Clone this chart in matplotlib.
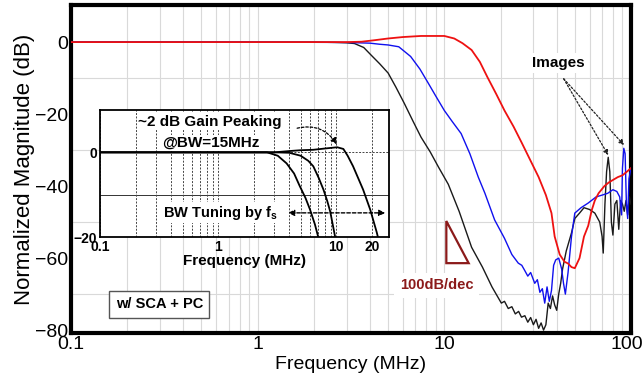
import matplotlib
matplotlib.use("Agg")
import matplotlib.pyplot as plt
import matplotlib.transforms as mtransforms
from matplotlib.patches import Polygon

plt.rcParams['font.family'] = ['Liberation Sans', 'DejaVu Sans']
plt.rcParams['mathtext.fontset'] = 'custom'
plt.rcParams['mathtext.rm'] = 'Liberation Sans'
plt.rcParams['mathtext.bf'] = 'Liberation Sans:bold'
plt.rcParams['mathtext.it'] = 'Liberation Sans:italic'

# ---------------- data ----------------
black_f = [0.1, 0.5, 1, 2, 2.6, 3.0, 3.3, 3.7, 4.05, 4.5, 5.0, 5.5, 6.1, 6.8, 7.5, 8.4, 9.3, 10.5, 12, 14,
           16, 18, 20.2, 21, 22, 23, 24, 25, 25.9, 27, 28, 29, 30, 31, 32, 33, 34, 35, 36, 37,
           38, 39, 40, 41, 42, 43, 45, 48, 50, 53, 56, 60, 64, 68, 70, 71, 72.5, 74, 75.5, 77,
           78.5, 80, 82, 84, 86, 88, 90, 92, 94, 96, 98, 100]
black_db = [0, 0, 0, 0, -0.1, -0.2, -0.4, -1.5, -3.6, -6, -8.6, -12.5, -17, -22, -26.4, -30.5, -34.7, -39.5, -47, -57,
            -62.5, -68, -72.5, -72, -74, -73.5, -75.5, -74.8, -76.4, -76, -77.8, -76.5, -78.5, -77, -79.5, -78, -80, -78.5, -72.5, -74,
            -70.5, -73, -74.5, -70, -67, -63, -58, -53, -49, -47.5, -46, -46.5, -47.5, -50, -54, -58.6, -45, -36, -32, -36,
            -50, -53.6, -45, -44, -52, -44, -45, -47, -44, -48, -43, -45]

blue_f = [0.1, 1, 3, 4, 4.5, 5, 5.7, 6.6, 7.4, 8.2, 9, 10, 11, 12.3, 13.7, 15.2, 16.5, 18.6, 21, 23,
          24.9, 26, 27, 28, 29, 30.5, 31.5, 32.5, 33.5, 34.5, 35.5, 36.5, 37.5, 38.5, 39.5, 41, 42.5, 43.5, 44.5, 46,
          48, 50, 54, 59, 65, 70, 75, 80, 84, 87, 89, 90, 91.5, 93, 94.5, 96, 97.5, 100]
blue_db = [0, 0, -0.1, -0.3, -0.6, -0.8, -1.3, -4, -7.5, -11.4, -15, -19, -22, -25.4, -31, -37.5, -42, -49.4, -54.5, -59,
           -61.4, -62, -63.5, -65, -64, -67, -66, -69.5, -68.5, -72.5, -68, -72, -69, -62, -60.5, -60, -63, -67, -70, -64,
           -54, -47.5, -46, -44.7, -43, -42.5, -42, -41, -41.5, -43, -48, -35, -29.5, -31, -45, -49, -38, -35]

red_f = [0.1, 1, 3, 3.6, 4.2, 5, 6, 7.5, 10, 11.3, 12.5, 14, 15.5, 17, 19, 21, 23.5, 26, 29, 32,
         35, 37.5, 39, 41.5, 44, 46, 48, 50, 53, 56, 59, 61.6, 64, 67, 72, 76, 80, 85, 90, 95, 100]
red_db = [0, 0, 0, 0.1, 0.5, 1.0, 1.4, 1.7, 1.7, 1.0, -0.3, -2.2, -5.5, -9.7, -14.5, -19, -23.5, -28, -33, -37.5,
          -42.5, -47.5, -54, -59, -61, -61.5, -62.5, -62.8, -60, -54, -51, -46.7, -44, -42, -40, -39, -38.3, -37.5, -37, -36, -35]

# inset (simulated) curves
inA_f = [0.1, 1, 2.6, 3.2, 3.8, 4.4, 4.9, 5.5, 6.0, 6.6, 7.2]
inA_db = [0, 0, 0, -0.8, -2.6, -5, -7.9, -10.8, -13.5, -17, -21]
inB_f = [0.1, 1, 3, 4, 5, 5.8, 6.4, 7.1, 7.8, 8.4, 8.9, 9.8, 10.5]
inB_db = [0, 0, 0, -0.1, -0.8, -2, -3.3, -6, -8.8, -11.5, -14, -20, -23]
inC_f = [0.1, 1, 3, 4, 5, 6.4, 8, 10.2, 11.5, 12.5, 13.9, 15.3, 16.9, 19.4, 22, 23.5]
inC_db = [0, 0, 0, 0.3, 0.5, 0.6, 0.9, 1.2, 0.8, -0.8, -3.3, -6, -8.8, -13.5, -18.8, -22]

main_xticks = [0.1, 1, 10, 100]
main_xticklabels = ['0.1', '1', '10', '100']
main_yticks = [0, -20, -40, -60, -80]
main_yticklabels = ['0', '\u221220', '\u221240', '\u221260', '\u221280']
inset_xticks = [0.1, 1, 10, 20]
inset_xticklabels = ['0.1', '1', '10', '20']
inset_yticks = [0, -20]
inset_yticklabels = ['0', '\u221220']

# ---------------- figure ----------------
fig = plt.figure(figsize=(6.44, 3.79), dpi=100)
ax = fig.add_axes([71/644, 1-333/379, 560/644, 328/379])
ax.set_xscale('log')
ax.set_xlim(0.1, 100)
ax.set_ylim(-80.8, 10.3)

# grid
ax.set_yticks(range(-80, 11, 10), minor=True)
ax.grid(True, which='both', axis='x', color='#d9d9d9', lw=0.8)
ax.grid(True, which='minor', axis='y', color='#d9d9d9', lw=0.8)
ax.set_axisbelow(True)

dark_red = '#8b1a1a'
ax.plot(black_f, black_db, color='#1a1a1a', lw=1.0, zorder=3)
ax.plot(blue_f, blue_db, color='#1010ee', lw=1.0, zorder=4)
ax.plot(red_f, red_db, color='#ee1111', lw=1.3, zorder=5)

ax.set_xticks(main_xticks)
ax.set_xticklabels(main_xticklabels)
ax.set_yticks(main_yticks)
ax.set_yticklabels(main_yticklabels)
ax.tick_params(which='both', length=0, labelsize=14, pad=2)
ax.set_xlabel('Frequency (MHz)', fontsize=14, labelpad=2)
ax.set_ylabel('Normalized Magnitude (dB)', fontsize=16, labelpad=0)
for s in ax.spines.values():
    s.set_linewidth(3)

# keep the "100" label inside the figure
last = ax.get_xticklabels()[-1]
last.set_transform(last.get_transform() + mtransforms.ScaledTranslation(-4/100, 0, fig.dpi_scale_trans))

# annotations main
ax.text(41, -5.8, 'Images', fontsize=11, fontweight='bold', ha='center', va='center', zorder=6,
        bbox=dict(facecolor='white', edgecolor='none', pad=2))
for tx, ty in [(75.5, -31.4), (91.7, -28.6)]:
    ax.annotate('', xy=(tx, ty), xytext=(43.6, -10.2),
                arrowprops=dict(arrowstyle='-|>', linestyle=(0, (1.5, 1.5)), color='#222222', lw=0.9,
                                mutation_scale=7, shrinkA=0, shrinkB=0), zorder=6)

tri = Polygon([(10.25, -49.7), (10.25, -61.4), (13.5, -61.4)], closed=True, fill=False,
              edgecolor=dark_red, lw=1.6, zorder=6)
ax.add_patch(tri)
ax.text(9.07, -67.5, '100dB/dec', fontsize=10.5, fontweight='bold', color=dark_red, ha='center', va='center',
        zorder=6, bbox=dict(facecolor='white', edgecolor='none', pad=4))

ax.text(0.297, -72.8, 'w/ SCA + PC', fontsize=10.5, fontweight='bold', ha='center', va='center', zorder=6,
        bbox=dict(facecolor='white', edgecolor='#555555', lw=1.0, boxstyle='square,pad=0.45'))

# ---------------- inset ----------------
ins = fig.add_axes([100/644, 1-237/379, 289/644, 127/379], zorder=10)
ins.set_facecolor('white')
ins.set_xscale('log')
ins.set_xlim(0.1, 28)
ins.set_ylim(-20, 10)
ins.xaxis.set_minor_locator(matplotlib.ticker.LogLocator(base=10, subs=range(2, 10)))
ins.xaxis.set_minor_formatter(matplotlib.ticker.NullFormatter())
ins.grid(True, which='both', axis='x', color='#444444', lw=0.7, linestyle=(0, (2, 1.5)))
ins.axhline(0, color='#444444', lw=0.7, linestyle=(0, (2, 1.5)), zorder=1)
ins.axhline(-10, color='#333333', lw=0.7, zorder=1)

for f, d in [(inA_f, inA_db), (inB_f, inB_db), (inC_f, inC_db)]:
    ins.plot(f, d, color='black', lw=1.3, zorder=3)

ins.set_xticks(inset_xticks)
ins.set_xticklabels(inset_xticklabels)
ins.set_yticks(inset_yticks)
ins.set_yticklabels(inset_yticklabels)
ins.tick_params(which='both', length=0, labelsize=10, pad=2)
for lab in ins.get_xticklabels() + ins.get_yticklabels():
    lab.set_fontweight('bold')
ins.set_xlabel('Frequency (MHz)', fontsize=11, fontweight='bold', labelpad=0)
for s in ins.spines.values():
    s.set_linewidth(1.3)

ins.text(0.857, 7.2, '~2 dB Gain Peaking', fontsize=11, fontweight='bold', ha='center', va='center', zorder=5,
         bbox=dict(facecolor='white', edgecolor='none', pad=1))
ins.text(0.87, 2.2, '@BW=15MHz', fontsize=11, fontweight='bold', ha='center', va='center', zorder=5,
         bbox=dict(facecolor='white', edgecolor='none', pad=1))
ins.text(1.04, -14.3, r'BW Tuning by $\mathbf{f_s}$', fontsize=10.5, fontweight='bold', ha='center',
         va='center', zorder=5, bbox=dict(facecolor='white', edgecolor='none', pad=1))
ins.annotate('', xy=(3.92, -14.3), xytext=(26, -14.3),
             arrowprops=dict(arrowstyle='<|-|>', linestyle=(0, (2.5, 1.5)), color='black', lw=1.0,
                             mutation_scale=9, shrinkA=0, shrinkB=0), zorder=6)
ins.annotate('', xy=(10.1, 1.9), xytext=(4.67, 5.7),
             arrowprops=dict(arrowstyle='-|>', linestyle=(0, (2, 1.5)), color='black', lw=0.9,
                             mutation_scale=9, shrinkA=0, shrinkB=0,
                             connectionstyle='arc3,rad=-0.35'), zorder=6)

fig.savefig('out.png', dpi=100)
